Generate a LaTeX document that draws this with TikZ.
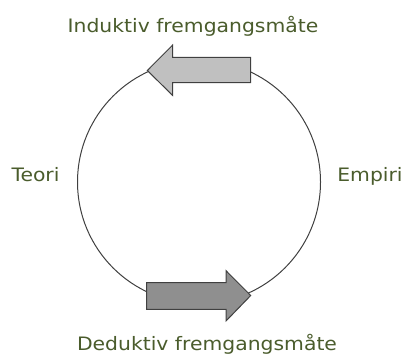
\documentclass[tikz,border=0pt]{standalone}
\usepackage{fontspec}
\setmainfont{DejaVu Sans}[FakeStretch=1.1]
\definecolor{labelgreen}{HTML}{4A5C2C}
\definecolor{lightarrow}{HTML}{C0C0C0}
\definecolor{darkarrow}{HTML}{8F8F8F}
\definecolor{edgegray}{HTML}{404040}
\begin{document}
\begin{tikzpicture}[x=1pt,y=-1pt,
  lbl/.style={text=labelgreen,font=\fontsize{18.5}{20}\selectfont,anchor=base,inner sep=0pt},
  arrowshape/.style={draw=edgegray,line width=1pt,line join=miter}]
\useasboundingbox (0,0) rectangle (406,356);
\draw[edgegray,line width=1pt] (199,182) circle (121.5);
% top arrow (pointing left)
\draw[arrowshape,fill=lightarrow] (147.3,70.5) -- (172.7,45) -- (172.7,57.3) -- (250.7,57.3)
  -- (250.7,82.7) -- (172.7,82.7) -- (172.7,95.5) -- cycle;
% bottom arrow (pointing right)
\draw[arrowshape,fill=darkarrow] (250.7,295.5) -- (226,270.7) -- (226,282.7) -- (146.7,282.7)
  -- (146.7,309.3) -- (226,309.3) -- (226,321) -- cycle;
\node[lbl] (ind) at (193,32) {Induktiv fremgangsmåte};
\node[lbl] (ded) at (207,350) {Deduktiv fremgangsmåte};
\node[lbl] (teo) at (35.5,181) {Teori};
\node[lbl] (emp) at (370,181) {Empiri};
\end{tikzpicture}
\end{document}
